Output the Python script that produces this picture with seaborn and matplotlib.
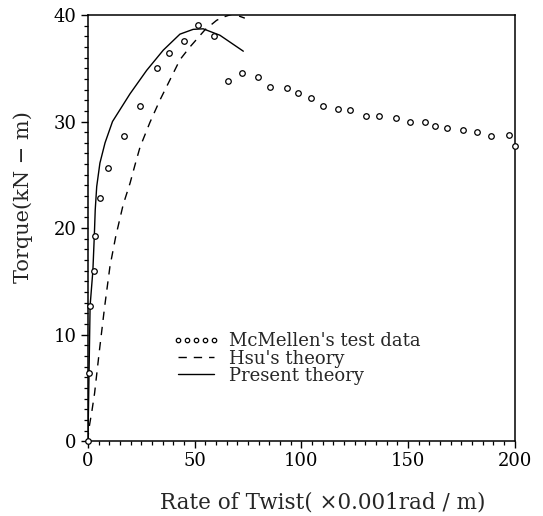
import matplotlib
matplotlib.use("Agg")
import matplotlib.pyplot as plt
from matplotlib.ticker import MultipleLocator
from matplotlib.lines import Line2D
import seaborn as sns
import pandas as pd

# McMellen's test data
test_x = [0, 0.6, 1.0, 2.7, 3.4, 5.6, 9.2, 17.0, 24.5, 32.5, 37.8, 45.1, 51.7, 59.0,
          65.4, 72.4, 79.5, 85.1, 93.4, 98.2, 104.3, 110.1, 117.0, 123.0, 130.1, 136.2,
          144.4, 150.7, 158.0, 162.7, 168.2, 175.6, 182.3, 188.9, 197.2, 199.9]
test_y = [0, 6.4, 12.7, 16.0, 19.3, 22.8, 25.6, 28.6, 31.45, 35.05, 36.4, 37.6, 39.06, 38.06,
          33.8, 34.6, 34.2, 33.2, 33.1, 32.7, 32.2, 31.45, 31.2, 31.1, 30.5, 30.5,
          30.3, 29.95, 29.95, 29.6, 29.4, 29.2, 29.0, 28.6, 28.7, 27.7]

# Hsu's theory
hsu_x = [0, 0.3, 1.9, 3.1, 5.3, 7.8, 10.3, 13.0, 16.5, 19.7, 22.0, 24.4, 29.0, 33.7,
         38.4, 43.1, 47.8, 54.8, 60.3, 63.4, 68.0, 73.5]
hsu_y = [0, 1.0, 2.9, 4.5, 8.4, 12.6, 16.4, 19.2, 22.2, 24.2, 25.9, 27.6, 29.9, 32.0,
         33.9, 35.8, 37.0, 38.6, 39.5, 39.8, 40.1, 39.7]

# Present theory
pres_x = [0, 0.5, 1.0, 2.3, 3.0, 3.4, 4.1, 5.6, 8.0, 11.5, 19.7, 27.5, 35.3, 43.1,
          49.3, 54.0, 61.8, 72.8]
pres_y = [0, 6.4, 12.7, 16.0, 19.4, 21.7, 23.9, 26.1, 28.0, 30.0, 32.6, 34.8, 36.7, 38.2,
          38.65, 38.7, 38.1, 36.6]

legend_labels = ["McMellen's test data", "Hsu's theory", "Present theory"]

sns.set_style("ticks")
plt.rcParams['font.family'] = ['DejaVu Serif']

fig = plt.figure(figsize=(5.43, 5.16), dpi=100)
ax = fig.add_axes([0.162, 0.145, 0.786, 0.826])

df_t = pd.DataFrame({"x": test_x, "y": test_y})
df_h = pd.DataFrame({"x": hsu_x, "y": hsu_y})
df_p = pd.DataFrame({"x": pres_x, "y": pres_y})

sns.lineplot(data=df_p, x="x", y="y", ax=ax, color="black", lw=1.0, sort=False)
sns.lineplot(data=df_h, x="x", y="y", ax=ax, color="black", lw=1.0, sort=False,
             dashes=False, linestyle=(0, (6, 5)))
sns.scatterplot(data=df_t, x="x", y="y", ax=ax, marker="o", s=16,
                facecolor="white", edgecolor="black", linewidth=0.9, zorder=5, clip_on=False)

ax.set_xlim(0, 200)
ax.set_ylim(0, 40)
ax.xaxis.set_major_locator(MultipleLocator(50))
ax.xaxis.set_minor_locator(MultipleLocator(5))
ax.yaxis.set_major_locator(MultipleLocator(10))
ax.yaxis.set_minor_locator(MultipleLocator(1))
ax.tick_params(which="major", direction="out", length=5, width=1.0, labelsize=13, pad=3,
               colors="black")
ax.tick_params(which="minor", direction="out", length=3, width=0.9, colors="black")
for s in ax.spines.values():
    s.set_linewidth(1.1)
    s.set_color("black")

ax.set_xlabel("Rate of Twist( ×0.001rad / m)", fontsize=15.5)
ax.xaxis.set_label_coords(0.549, -0.118)
ax.set_ylabel("Torque(kN − m)", fontsize=15)
ax.yaxis.set_label_coords(-0.128, 0.573)

handles = [
    Line2D([], [], linestyle="none", marker="o", markersize=3.2, markerfacecolor="white",
           markeredgecolor="black", markeredgewidth=0.9),
    Line2D([], [], color="black", lw=1.0, linestyle=(0, (6, 5))),
    Line2D([], [], color="black", lw=1.0),
]
leg = ax.legend(handles, legend_labels, loc="upper left", bbox_to_anchor=(0.182, 0.272),
                frameon=False, fontsize=13, handlelength=2.6, handletextpad=0.5,
                labelspacing=-0.05, borderaxespad=0, numpoints=5)

fig.savefig("out.png", dpi=100, facecolor="white")
